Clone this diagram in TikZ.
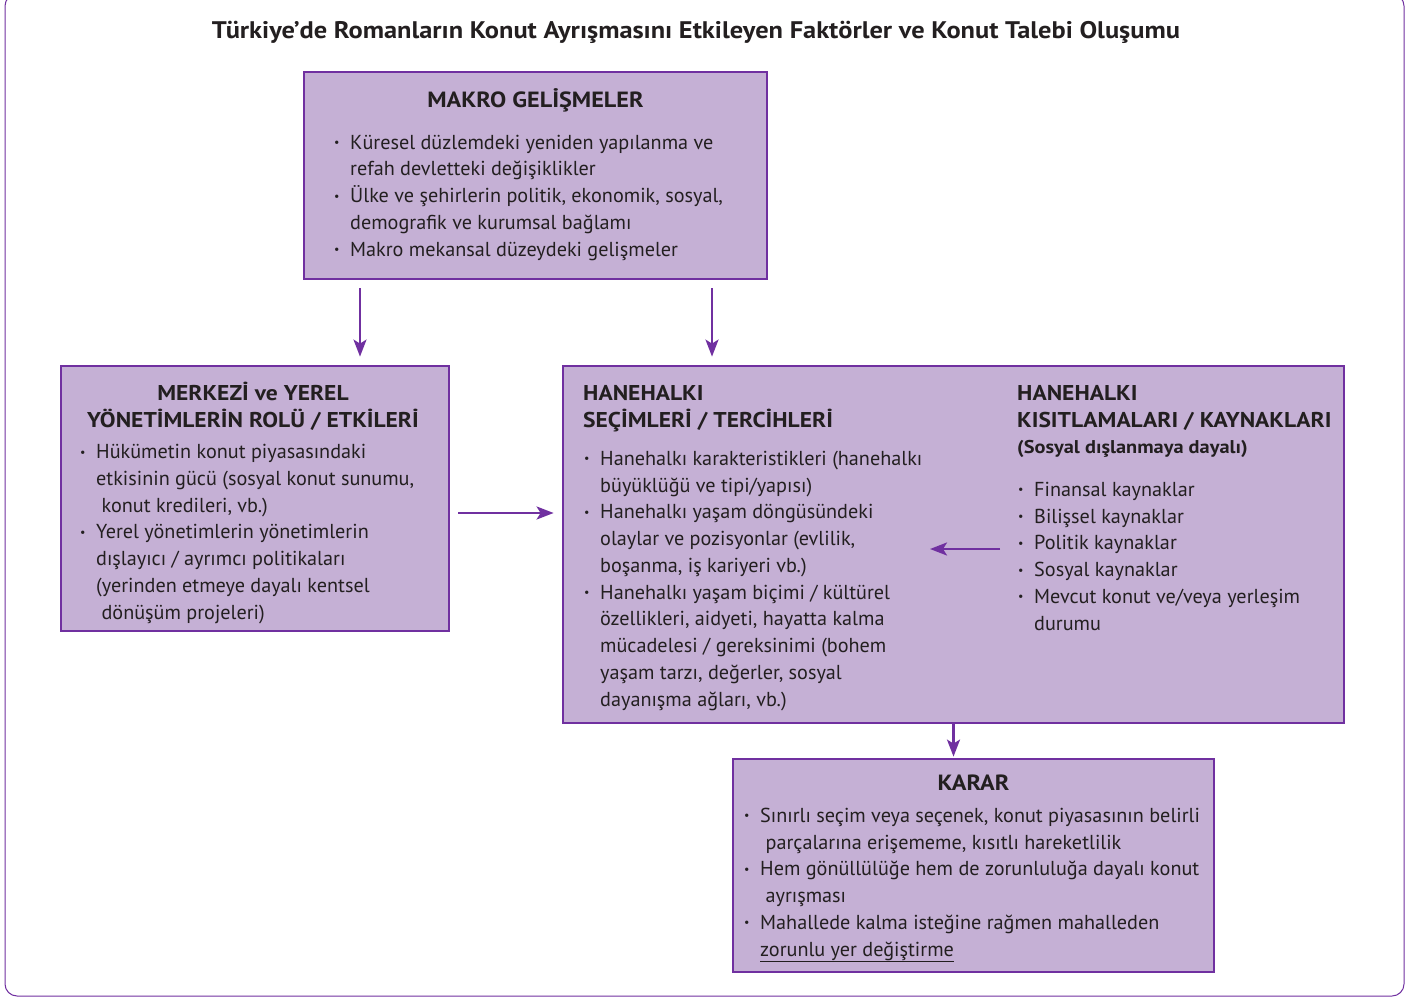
\documentclass[tikz,border=0pt]{standalone}
\usepackage{fontspec}
\setmainfont{PT Sans}[BoldFeatures={FakeStretch=1.1}]
\usetikzlibrary{arrows.meta}

\definecolor{mor}{HTML}{7030A0}
\definecolor{lila}{HTML}{C5B0D5}
\definecolor{koyu}{HTML}{231F20}

\newcommand\itm{\makebox[16pt][l]{\raisebox{2.5pt}{\fontsize{12}{12}\selectfont\textbullet}}}
\newcommand\ind{\hspace*{16pt}}

\tikzset{
  kutu/.style={draw=mor, fill=lila, line width=2.8pt, inner sep=0pt},
  metin/.style={anchor=base west, align=left, inner sep=0pt, text=koyu,
    font=\fontsize{20.2}{26.75}\selectfont},
  baslik/.style={inner sep=0pt, text=koyu, font=\bfseries\fontsize{21.4}{27}\selectfont},
  ok/.style={draw=mor, line width=2.5pt, shorten <=8pt, shorten >=8pt,
    -{Stealth[length=17pt,width=13pt,inset=4pt]}}
}

\begin{document}
\begin{tikzpicture}[x=1pt,y=-1pt]
  \useasboundingbox (0,0) rectangle (1414,998);
  \draw[mor, line width=1pt, rounded corners=12pt] (5,-6) rectangle (1404,996);

  \node[baslik, anchor=base, font=\bfseries\fontsize{24}{26}\selectfont] (title) at (696,39)
    {Türkiye’de Romanların Konut Ayrışmasını Etkileyen Faktörler ve Konut Talebi Oluşumu};

  % kutular
  \node[kutu, minimum width=463pt, minimum height=207pt] (makro) at (535.5,175.5) {};
  \node[kutu, minimum width=388pt, minimum height=265pt] (merkezi) at (255,498.5) {};
  \node[kutu, minimum width=781pt, minimum height=357pt] (hane) at (953.5,544.5) {};
  \node[kutu, minimum width=481pt, minimum height=213pt] (karar) at (973.5,865.5) {};

  % makro (base = son satir)
  \node[baslik, anchor=base, font=\bfseries\fontsize{22}{27}\selectfont] (makrobas) at (535.5,107) {MAKRO GELİŞMELER};
  \node[metin] (makrometin) at (334,256) {\itm Küresel düzlemdeki yeniden yapılanma ve\\
    \ind refah devletteki değişiklikler\\
    \itm Ülke ve şehirlerin politik, ekonomik, sosyal,\\
    \ind demografik ve kurumsal bağlamı\\
    \itm Makro mekansal düzeydeki gelişmeler};

  % merkezi ve yerel
  \node[baslik, anchor=base, align=center] (merkezibas) at (253,427)
    {MERKEZİ ve YEREL\\YÖNETİMLERİN ROLÜ / ETKİLERİ};
  \node[metin] (merkezimetin) at (80,619) {\itm Hükümetin konut piyasasındaki\\
    \ind etkisinin gücü (sosyal konut sunumu,\\
    \ind\ konut kredileri, vb.)\\
    \itm Yerel yönetimlerin yönetimlerin\\
    \ind dışlayıcı / ayrımcı politikaları\\
    \ind (yerinden etmeye dayalı kentsel\\
    \ind\ dönüşüm projeleri)};

  % hanehalki
  \node[baslik, anchor=base west, align=left] (secimbas) at (583,427)
    {HANEHALKI\\SEÇİMLERİ / TERCİHLERİ};
  \node[metin] (secimmetin) at (584,706) {\itm Hanehalkı karakteristikleri (hanehalkı\\
    \ind büyüklüğü ve tipi/yapısı)\\
    \itm Hanehalkı yaşam döngüsündeki\\
    \ind olaylar ve pozisyonlar (evlilik,\\
    \ind boşanma, iş kariyeri vb.)\\
    \itm Hanehalkı yaşam biçimi / kültürel\\
    \ind özellikleri, aidyeti, hayatta kalma\\
    \ind mücadelesi / gereksinimi (bohem\\
    \ind yaşam tarzı, değerler, sosyal\\
    \ind dayanışma ağları, vb.)};

  \node[baslik, anchor=base west, align=left] (kisitbas) at (1017,427)
    {HANEHALKI\\KISITLAMALARI / KAYNAKLARI};
  \node[baslik, anchor=base west, font=\bfseries\fontsize{18.5}{20}\selectfont] (kisitalt) at (1017,453)
    {(Sosyal dışlanmaya dayalı)};
  \node[metin] (kisitmetin) at (1018,630) {\itm Finansal kaynaklar\\
    \itm Bilişsel kaynaklar\\
    \itm Politik kaynaklar\\
    \itm Sosyal kaynaklar\\
    \itm Mevcut konut ve/veya yerleşim\\
    \ind durumu};

  % karar
  \node[baslik, anchor=base, font=\bfseries\fontsize{22}{27}\selectfont] (kararbas) at (973.5,790) {KARAR};
  \node[metin] (kararmetin) at (744,956) {\itm Sınırlı seçim veya seçenek, konut piyasasının belirli\\
    \ind\ parçalarına erişememe, kısıtlı hareketlilik\\
    \itm Hem gönüllülüğe hem de zorunluluğa dayalı konut\\
    \ind\ ayrışması\\
    \itm Mahallede kalma isteğine rağmen mahalleden\\
    \ind\underline{zorunlu yer değiştirme}};

  % oklar
  \coordinate (k1) at (360,0);
  \coordinate (k2) at (712,0);
  \coordinate (k3) at (0,513);
  \coordinate (kaynak) at (1000,549);
  \coordinate (secim) at (930,549);
  \draw[ok] (makro.south -| k1) -- (merkezi.north -| k1);
  \draw[ok] (makro.south -| k2) -- (hane.north -| k2);
  \draw[ok] (merkezi.east |- k3) -- (hane.west |- k3);
  \draw[ok, shorten <=0pt, shorten >=0pt] (kaynak) -- (secim);
  \draw[ok, shorten <=0pt, shorten >=1pt] (hane.south) -- (karar.north -| hane.south);
\end{tikzpicture}
\end{document}
